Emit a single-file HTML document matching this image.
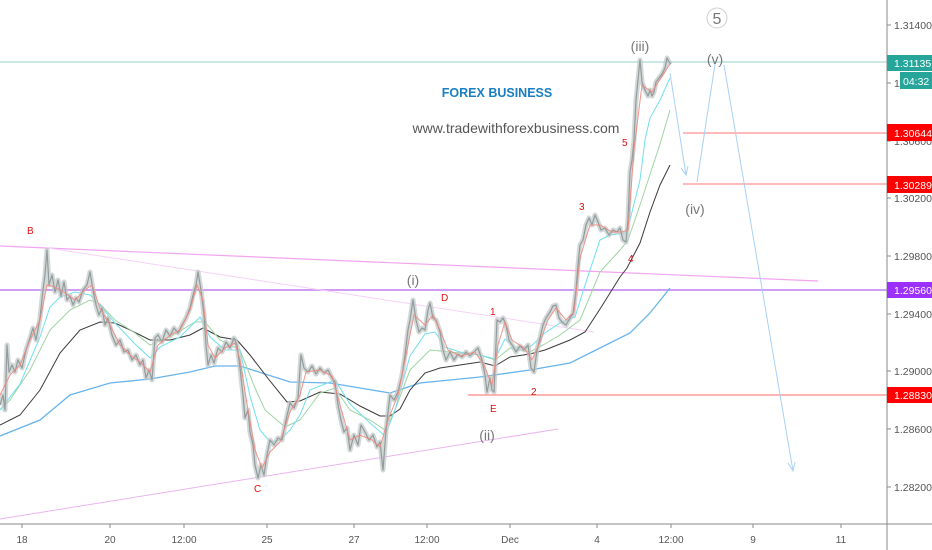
<!DOCTYPE html>
<html><head><meta charset="utf-8"><style>
html,body{margin:0;padding:0;background:#fff;}
svg{display:block;}
text{font-family:"Liberation Sans",sans-serif;}
</style></head><body>
<svg width="932" height="550" viewBox="0 0 932 550" xmlns="http://www.w3.org/2000/svg">
<rect width="932" height="550" fill="#fff"/>
<defs><clipPath id="c"><rect x="0" y="0" width="887" height="524"/></clipPath></defs>
<g clip-path="url(#c)">
<!-- horizontal levels -->
<line x1="0" y1="62" x2="887" y2="62" stroke="#b9e2de" stroke-width="1.5"/>
<line x1="0" y1="290" x2="887" y2="290" stroke="#cf9cf6" stroke-width="2"/>
<line x1="683" y1="133" x2="887" y2="133" stroke="#f77" stroke-width="1"/>
<line x1="683" y1="184" x2="887" y2="184" stroke="#f77" stroke-width="1"/>
<line x1="468" y1="395" x2="887" y2="395" stroke="#f88" stroke-width="1.2"/>
<!-- trendlines -->
<line x1="0" y1="246" x2="818" y2="281" stroke="#f2a4f0" stroke-width="1.2"/>
<line x1="48" y1="248" x2="594" y2="332" stroke="#f5d3f5" stroke-width="1"/>
<line x1="0" y1="519" x2="558" y2="429" stroke="#eab4f0" stroke-width="1"/>
<!-- MA 200 blue -->
<polyline fill="none" stroke="#69b4ea" stroke-width="1.3" points="0,436 40,420 70,395 110,383 150,379 190,372 215,366 240,366 265,374 290,382 330,383 360,388 390,393 420,383 450,380 480,377 530,370 570,363 600,348 630,333 650,313 670,288"/>
<!-- MA black -->
<polyline fill="none" stroke="#3a3a3a" stroke-width="1" points="0,425 20,415 40,390 60,353 80,330 100,322 115,323 130,330 150,340 170,340 190,335 203,328 220,337 237,340 250,355 270,381 287,402 300,401 320,392 340,394 360,406 380,416 390,416 400,409 410,390 425,373 440,368 460,365 480,362 495,366 510,357 530,354 545,350 570,340 585,332 600,309 620,277 627,268 640,243 650,212 660,185 670,165"/>
<!-- MA green -->
<polyline fill="none" stroke="#9fd4a2" stroke-width="1" points="0,410 10,400 30,370 50,330 70,310 90,300 100,304 115,320 135,333 150,345 170,337 195,322 205,322 220,340 240,350 255,388 265,410 285,427 300,420 320,393 335,388 350,410 370,420 385,430 395,410 410,370 430,350 450,352 480,355 495,360 510,348 530,352 545,344 560,335 580,320 600,272 620,250 628,240 640,205 660,144 670,110"/>
<!-- MA cyan -->
<polyline fill="none" stroke="#6fe0ec" stroke-width="1" points="0,410 20,384 40,337 50,307 60,297 75,292 90,295 100,305 115,323 135,344 150,358 160,347 180,337 200,317 210,337 225,350 240,350 250,396 260,430 270,442 280,440 290,430 300,415 310,390 335,380 350,404 370,423 385,436 395,410 410,356 425,334 435,332 445,347 460,352 480,355 495,359 505,339 515,347 530,347 545,333 560,323 575,317 585,285 600,240 610,235 625,233 630,220 640,180 645,140 650,118 660,100 670,78"/>
<!-- price candles (gray band) -->
<g fill="none" stroke-linejoin="round">
<polyline id="p" stroke="#c3caca" stroke-width="5" opacity="0.75" points="0,405 3,395 5,410 7,345 9,372 12,365 15,372 18,360 22,368 26,350 30,338 33,328 36,340 40,318 43,290 45,275 47,250 49,285 52,275 55,292 58,280 61,296 64,282 67,300 70,296 73,305 76,298 79,302 83,290 87,285 90,272 93,290 96,305 99,315 102,308 105,325 108,318 112,335 116,345 120,340 124,352 128,350 132,360 136,355 140,365 143,360 146,378 149,370 152,380 155,338 158,335 162,342 166,330 170,336 174,328 178,333 182,325 186,318 190,308 193,295 196,285 198,272 201,290 204,315 206,345 208,365 211,355 214,363 218,348 222,352 226,342 230,348 234,338 237,345 240,368 243,395 245,418 248,410 250,432 253,445 255,465 258,478 261,465 264,475 267,455 270,440 274,445 278,438 282,440 286,420 290,403 294,408 298,398 301,355 304,368 308,372 312,366 316,374 320,368 324,373 328,370 332,378 335,382 338,405 341,420 344,432 347,428 350,450 354,435 358,445 361,425 365,432 369,440 373,435 377,447 380,442 383,470 386,430 390,395 394,400 398,392 402,375 405,355 408,330 410,320 413,300 416,320 419,332 422,328 425,330 428,310 430,303 433,318 436,320 440,332 443,350 446,360 450,352 454,360 458,354 462,357 466,352 470,356 474,352 478,348 482,360 485,375 487,392 490,378 492,390 494,392 497,320 500,322 503,318 506,325 509,340 512,345 516,352 520,346 524,350 528,345 531,368 534,372 537,350 540,338 543,325 546,318 550,312 553,306 556,305 559,318 562,322 566,325 570,318 573,314 576,290 578,265 580,245 583,240 586,225 589,218 592,225 595,215 598,222 601,230 605,228 609,235 613,230 617,232 620,228 623,240 626,242 628,220 630,172 632,160 634,140 636,100 638,80 640,60 642,82 644,88 646,92 648,96 650,90 652,96 654,92 656,82 659,78 662,74 665,68 667,58 669,62 671,64"/>
<polyline stroke="#929c9c" stroke-width="1.2" points="0,405 3,395 5,410 7,345 9,372 12,365 15,372 18,360 22,368 26,350 30,338 33,328 36,340 40,318 43,290 45,275 47,250 49,285 52,275 55,292 58,280 61,296 64,282 67,300 70,296 73,305 76,298 79,302 83,290 87,285 90,272 93,290 96,305 99,315 102,308 105,325 108,318 112,335 116,345 120,340 124,352 128,350 132,360 136,355 140,365 143,360 146,378 149,370 152,380 155,338 158,335 162,342 166,330 170,336 174,328 178,333 182,325 186,318 190,308 193,295 196,285 198,272 201,290 204,315 206,345 208,365 211,355 214,363 218,348 222,352 226,342 230,348 234,338 237,345 240,368 243,395 245,418 248,410 250,432 253,445 255,465 258,478 261,465 264,475 267,455 270,440 274,445 278,438 282,440 286,420 290,403 294,408 298,398 301,355 304,368 308,372 312,366 316,374 320,368 324,373 328,370 332,378 335,382 338,405 341,420 344,432 347,428 350,450 354,435 358,445 361,425 365,432 369,440 373,435 377,447 380,442 383,470 386,430 390,395 394,400 398,392 402,375 405,355 408,330 410,320 413,300 416,320 419,332 422,328 425,330 428,310 430,303 433,318 436,320 440,332 443,350 446,360 450,352 454,360 458,354 462,357 466,352 470,356 474,352 478,348 482,360 485,375 487,392 490,378 492,390 494,392 497,320 500,322 503,318 506,325 509,340 512,345 516,352 520,346 524,350 528,345 531,368 534,372 537,350 540,338 543,325 546,318 550,312 553,306 556,305 559,318 562,322 566,325 570,318 573,314 576,290 578,265 580,245 583,240 586,225 589,218 592,225 595,215 598,222 601,230 605,228 609,235 613,230 617,232 620,228 623,240 626,242 628,220 630,172 632,160 634,140 636,100 638,80 640,60 642,82 644,88 646,92 648,96 650,90 652,96 654,92 656,82 659,78 662,74 665,68 667,58 669,62 671,64"/>
</g>
<!-- MA red -->
<polyline fill="none" stroke="#f2867c" stroke-width="1" opacity="0.9" points="0,395 10,375 20,365 30,340 40,320 47,285 55,287 65,293 75,300 85,290 92,285 100,308 110,325 120,345 130,355 140,362 150,372 158,345 170,335 180,330 190,310 197,285 203,300 208,345 215,358 225,348 235,343 240,360 248,410 255,450 262,468 270,452 280,442 290,412 300,395 306,372 320,370 332,376 340,405 350,440 360,435 372,440 380,447 388,420 398,395 406,355 414,315 425,325 433,315 440,330 448,350 460,356 475,352 484,365 492,385 498,345 505,322 512,340 524,348 532,360 540,342 548,320 556,308 566,320 574,312 580,258 590,225 600,225 612,232 622,232 628,230 634,150 642,85 652,92 662,76 670,64"/>
<!-- projection arrows -->
<g stroke="#a9d1f5" stroke-width="1" fill="none">
<line x1="670" y1="73" x2="686" y2="175"/>
<polyline points="681,168 686,175 688,166"/>
<line x1="697" y1="182" x2="715" y2="64"/>
<line x1="724" y1="65" x2="793" y2="471"/>
<polyline points="788,463 793,471 795,462"/>
</g>
<!-- labels -->
<g fill="#e01010" font-size="10">
<text x="27" y="234">B</text>
<text x="254" y="492">C</text>
<text x="441" y="301">D</text>
<text x="490" y="412">E</text>
<text x="490" y="315">1</text>
<text x="531" y="395">2</text>
<text x="579" y="210">3</text>
<text x="628" y="262">4</text>
<text x="622" y="146">5</text>
</g>
<g fill="#777" font-size="14">
<text x="413" y="285" text-anchor="middle">(i)</text>
<text x="487" y="440" text-anchor="middle">(ii)</text>
<text x="640" y="51" text-anchor="middle">(iii)</text>
<text x="695" y="214" text-anchor="middle">(iv)</text>
<text x="715" y="64" text-anchor="middle">(v)</text>
</g>
<circle cx="717" cy="18" r="10" fill="#fff" stroke="#cfcfcf" stroke-width="1"/>
<text x="717" y="24" fill="#777" font-size="16" text-anchor="middle">5</text>
<text x="497" y="97" fill="#1a7fc1" font-size="12.5" font-weight="bold" text-anchor="middle">FOREX BUSINESS</text>
<text x="516" y="133" fill="#555" font-size="14" text-anchor="middle">www.tradewithforexbusiness.com</text>
</g>
<!-- axes -->
<line x1="0" y1="524" x2="932" y2="524" stroke="#8a8a8a" stroke-width="1"/>
<line x1="887" y1="0" x2="887" y2="550" stroke="#8a8a8a" stroke-width="1"/>
<g stroke="#8a8a8a" stroke-width="1">
<line x1="887" y1="25" x2="891" y2="25"/><line x1="887" y1="83" x2="891" y2="83"/><line x1="887" y1="141" x2="891" y2="141"/><line x1="887" y1="198" x2="891" y2="198"/><line x1="887" y1="256" x2="891" y2="256"/><line x1="887" y1="314" x2="891" y2="314"/><line x1="887" y1="371" x2="891" y2="371"/><line x1="887" y1="429" x2="891" y2="429"/><line x1="887" y1="487" x2="891" y2="487"/>
<line x1="22" y1="524" x2="22" y2="528"/><line x1="110" y1="524" x2="110" y2="528"/><line x1="184" y1="524" x2="184" y2="528"/><line x1="267" y1="524" x2="267" y2="528"/><line x1="354" y1="524" x2="354" y2="528"/><line x1="427" y1="524" x2="427" y2="528"/><line x1="510" y1="524" x2="510" y2="528"/><line x1="597" y1="524" x2="597" y2="528"/><line x1="671" y1="524" x2="671" y2="528"/><line x1="753" y1="524" x2="753" y2="528"/><line x1="841" y1="524" x2="841" y2="528"/>
</g>
<g fill="#555" font-size="10.5">
<text x="894" y="29">1.31400</text>
<text x="894" y="87">1.31000</text>
<text x="894" y="145">1.30600</text>
<text x="894" y="202">1.30200</text>
<text x="894" y="260">1.29800</text>
<text x="894" y="318">1.29400</text>
<text x="894" y="375">1.29000</text>
<text x="894" y="433">1.28600</text>
<text x="894" y="491">1.28200</text>
</g>
<g fill="#555" font-size="10" text-anchor="middle">
<text x="22" y="543">18</text>
<text x="110" y="543">20</text>
<text x="184" y="543">12:00</text>
<text x="267" y="543">25</text>
<text x="354" y="543">27</text>
<text x="427" y="543">12:00</text>
<text x="510" y="543">Dec</text>
<text x="597" y="543">4</text>
<text x="671" y="543">12:00</text>
<text x="753" y="543">9</text>
<text x="841" y="543">11</text>
</g>
<!-- price boxes -->
<rect x="887" y="55" width="45" height="16" fill="#26a69a"/>
<text x="894" y="67" fill="#fff" font-size="10.5">1.31135</text>
<rect x="900" y="72" width="32" height="17" fill="#26a69a"/>
<text x="903" y="85" fill="#fff" font-size="10.5">04:32</text>
<rect x="887" y="124" width="45" height="17" fill="#ff0000"/>
<text x="894" y="137" fill="#fff" font-size="10.5">1.30644</text>
<rect x="887" y="176" width="45" height="17" fill="#ff0000"/>
<text x="894" y="189" fill="#fff" font-size="10.5">1.30289</text>
<rect x="887" y="282" width="45" height="16" fill="#9b30ff"/>
<text x="894" y="294" fill="#fff" font-size="10.5">1.29560</text>
<rect x="887" y="387" width="45" height="16" fill="#ff0000"/>
<text x="894" y="399" fill="#fff" font-size="10.5">1.28830</text>
</svg>
</body></html>
